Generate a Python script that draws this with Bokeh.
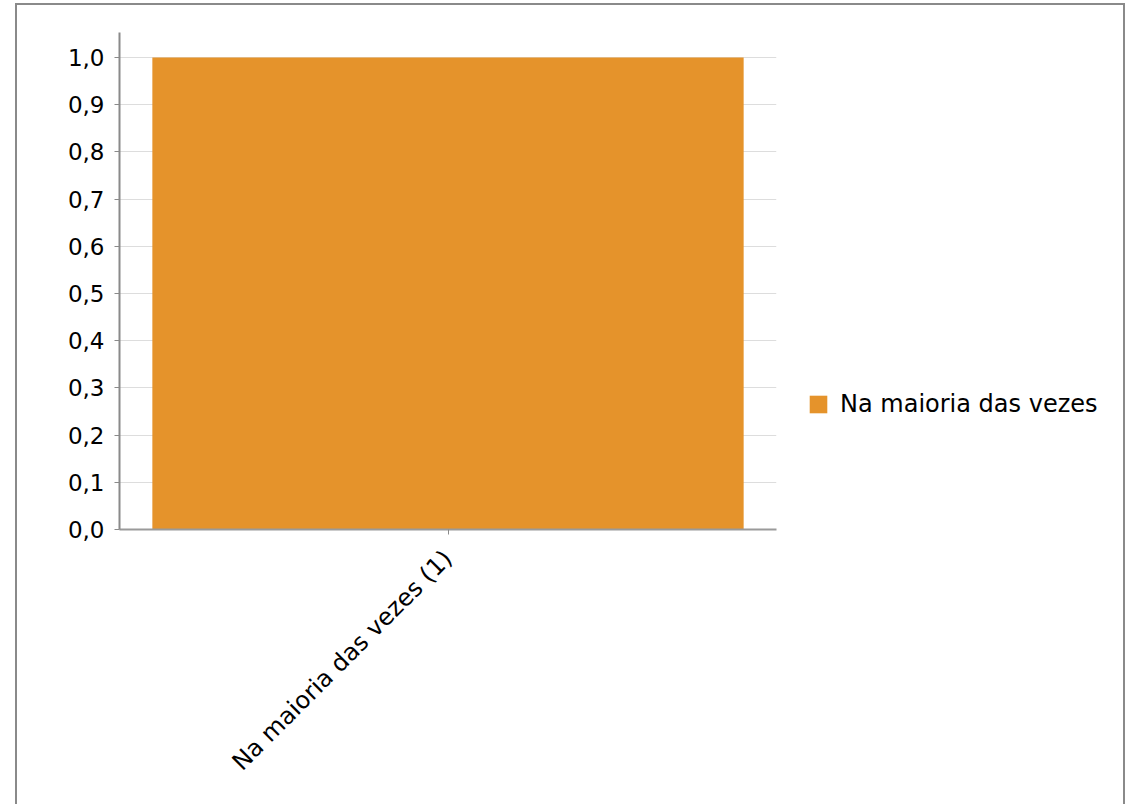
import math
from bokeh.plotting import figure
from bokeh.models import FactorRange, Range1d, FixedTicker, CustomJSTickFormatter, Legend, LegendItem, ColumnDataSource
from bokeh.embed import file_html
from bokeh.resources import INLINE

categories = ["Na maioria das vezes (1)"]
series_name = "Na maioria das vezes"
values = [1.0]
y_ticks = [0.0, 0.1, 0.2, 0.3, 0.4, 0.5, 0.6, 0.7, 0.8, 0.9, 1.0]

FONT = "DejaVu Sans"

src = ColumnDataSource(dict(cat=categories, val=values))

p = figure(
    x_range=FactorRange(*categories, range_padding=0),
    y_range=Range1d(0, 1.053),
    frame_width=657, frame_height=497,
    output_backend="svg", toolbar_location=None,
    min_border_left=102, min_border_top=27, min_border_right=0, min_border_bottom=296,
    styles={"border": "2px solid #8a8a8a", "max-width": "1110px", "overflow": "hidden"},
)
p.margin = (3, 0, 0, 15)
p.outline_line_color = None
p.background_fill_color = "white"
p.border_fill_color = "white"

r = p.vbar(x="cat", top="val", width=0.9, source=src, fill_color="#e5932b", line_color=None)

# grid
p.xgrid.grid_line_color = None
p.ygrid.grid_line_color = "#dddddd"
p.ygrid.grid_line_width = 1
p.ygrid.ticker = FixedTicker(ticks=y_ticks)

# y axis
p.yaxis.ticker = FixedTicker(ticks=y_ticks)
p.yaxis.formatter = CustomJSTickFormatter(code="return tick.toFixed(1).replace('.', ',');")
p.yaxis.axis_line_color = "#8a8a8a"
p.yaxis.axis_line_width = 2
p.yaxis.major_tick_line_color = "#8a8a8a"
p.yaxis.major_tick_out = 5
p.yaxis.major_tick_in = 0
p.yaxis.minor_tick_line_color = None
p.yaxis.major_label_text_font = FONT
p.yaxis.major_label_text_font_size = "23px"
p.yaxis.major_label_text_color = "black"
p.yaxis.major_label_standoff = 10

# x axis
p.xaxis.axis_line_color = "#9a9a9a"
p.xaxis.axis_line_width = 2
p.xaxis.major_tick_line_color = "#8a8a8a"
p.xaxis.major_tick_out = 5
p.xaxis.major_tick_in = 0
p.xaxis.major_label_orientation = math.pi / 4
p.xaxis.major_label_text_font = FONT
p.xaxis.major_label_text_font_size = "24px"
p.xaxis.major_label_text_color = "black"
p.xaxis.major_label_standoff = 20

legend = Legend(
    items=[LegendItem(label=series_name, renderers=[r])],
    location=(31, 111),
    border_line_color=None,
    background_fill_alpha=0,
    padding=0, margin=0,
    glyph_width=22, glyph_height=22,
    label_standoff=11,
    label_text_font=FONT,
    label_text_font_size="24px",
    label_text_color="black",
)
p.add_layout(legend, "right")

open("out.html", "w").write(file_html(p, INLINE))
